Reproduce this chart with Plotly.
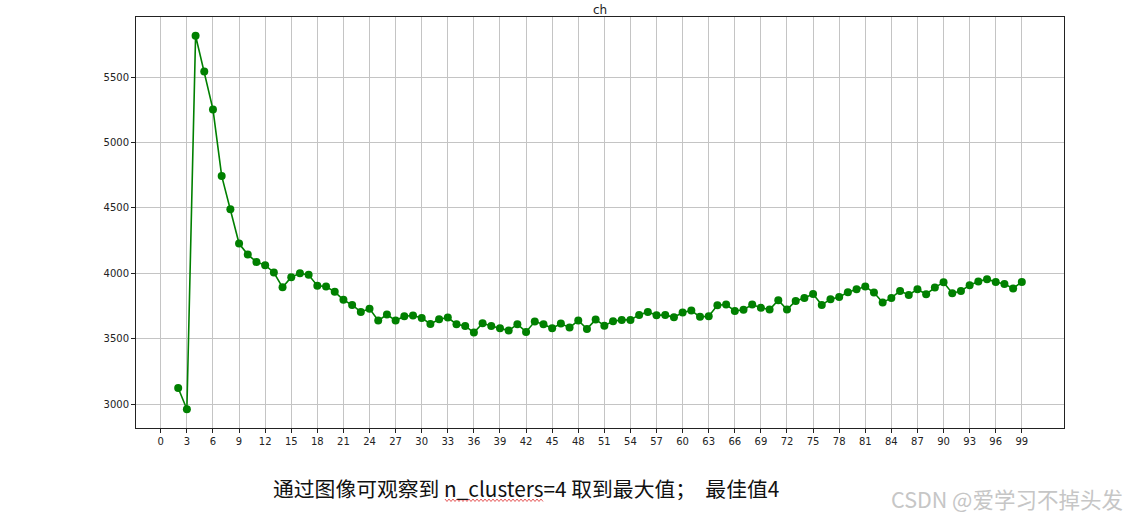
import plotly.graph_objects as go

n_clusters = list(range(2, 100))
ch_scores = [
    3125, 2962, 5816, 5543, 5253, 4745, 4491, 4228, 4144, 4088,
    4063, 4007, 3894, 3971, 4001, 3989, 3905, 3900, 3859, 3798,
    3759, 3706, 3731, 3640, 3686, 3640, 3673, 3678, 3660, 3614,
    3650, 3663, 3612, 3599, 3548, 3619, 3599, 3581, 3563, 3612,
    3553, 3632, 3612, 3581, 3617, 3586, 3640, 3576, 3647, 3601,
    3635, 3645, 3645, 3683, 3706, 3680, 3683, 3665, 3701, 3716,
    3668, 3673, 3757, 3762, 3713, 3722, 3762, 3737, 3724, 3795,
    3724, 3790, 3813, 3843, 3759, 3803, 3820, 3856, 3879, 3900,
    3854, 3777, 3813, 3866, 3836, 3879, 3841, 3892, 3933, 3849,
    3866, 3910, 3938, 3956, 3935, 3920, 3885, 3935,
]
x_ticks = list(range(0, 100, 3))
y_ticks = [3000, 3500, 4000, 4500, 5000, 5500]
title_text = "ch"
caption_text = "通过图像可观察到 n_clusters=4 取到最大值；  最佳值4"
watermark_text = "CSDN @爱学习不掉头发"

# plot area should land at x 136..1064, y 17..428 (body margin removed below)
PL, PR, PT, PB = 136, 1064, 17, 428
W, H = 1129, 518

def px(xp):
    return (xp - PL) / (PR - PL)

def py(yp):
    return (PB - yp) / (PB - PT)

fig = go.Figure()
fig.add_trace(go.Scatter(
    x=n_clusters, y=ch_scores, mode="lines+markers",
    line=dict(color="#008000", width=1.6),
    marker=dict(color="#008000", size=8),
    showlegend=False, hoverinfo="x+y",
))

axis_common = dict(
    showgrid=True, gridcolor="#c4c4c4", gridwidth=1,
    showline=True, linecolor="#222222", linewidth=1, mirror=True,
    ticks="outside", ticklen=4, tickcolor="#222222",
    tickfont=dict(family="DejaVu Sans", size=10, color="#222222"),
    zeroline=False,
)
fig.update_xaxes(range=[-2.85, 103.85], tickmode="array", tickvals=x_ticks, **axis_common)
fig.update_yaxes(range=[2819, 5959], tickmode="array", tickvals=y_ticks, **axis_common)

# red wavy spell-check underline under "n_clusters" (decoration)
pts = []
xw = 445
i = 0
while xw <= 543:
    yy = 499 if i % 2 == 0 else 501.5
    pts.append(f"{px(xw):.5f},{py(yy):.5f}")
    xw += 2
    i += 1
wavy_path = "M " + " L ".join(pts)

fig.update_layout(
    width=W, height=H,
    margin=dict(l=PL, r=W - PR, t=PT, b=H - PB),
    paper_bgcolor="white", plot_bgcolor="white",
    shapes=[dict(type="path", xref="paper", yref="paper", path=wavy_path,
                 line=dict(color="#e03030", width=0.8))],
    annotations=[
        dict(text=title_text, xref="paper", yref="paper", x=0.5, y=1.0,
             xanchor="center", yanchor="bottom", showarrow=False, yshift=-2,
             font=dict(family="DejaVu Sans", size=12, color="#222222")),
        dict(text=caption_text, xref="paper", yref="paper", x=px(271), y=py(488),
             xanchor="left", yanchor="middle", showarrow=False,
             font=dict(family="Noto Sans CJK SC", size=20.8, color="#111111")),
        dict(text=watermark_text, xref="paper", yref="paper", x=px(889), y=py(498),
             xanchor="left", yanchor="middle", showarrow=False,
             font=dict(family="Noto Sans CJK SC", size=21.5, color="#c6c6c6")),
    ],
)

fig.write_html(
    "out.html",
    config={"displayModeBar": False},
    post_script="document.body.style.margin='0px';document.body.style.overflow='hidden';",
)
